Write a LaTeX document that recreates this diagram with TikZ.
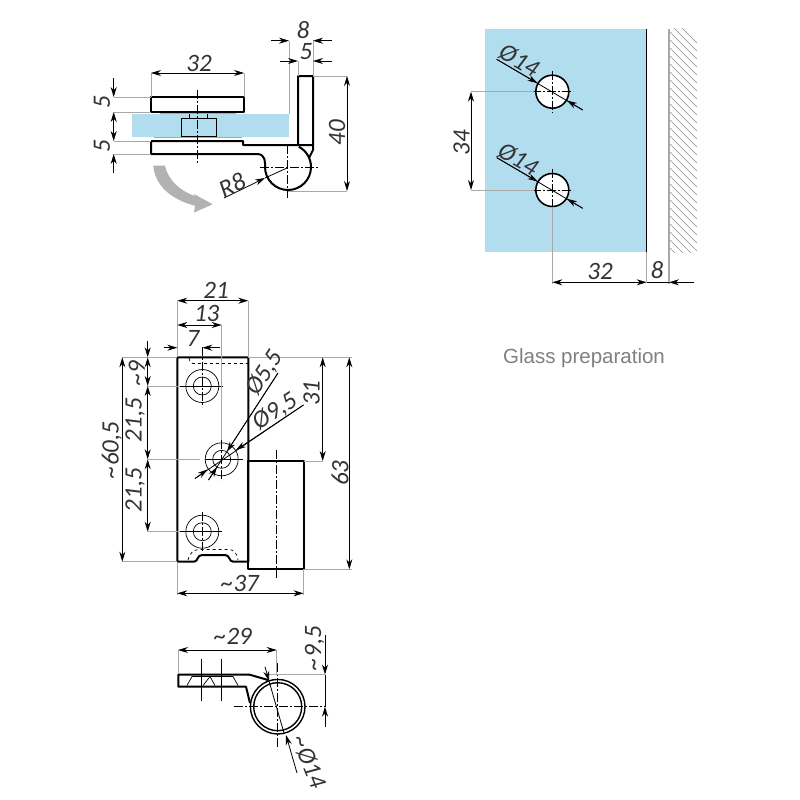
\documentclass[tikz,border=0pt]{standalone}
\usepackage{fontspec}
\setmainfont{Carlito}
\newfontfamily\captionfont{Liberation Sans}
\usetikzlibrary{arrows.meta}
\definecolor{glassblue}{HTML}{B2DDEE}
\definecolor{extgray}{HTML}{A8A8A8}
\tikzset{
  part/.style={draw=black,line width=2pt,line join=round},
  thinpart/.style={draw=black,line width=0.7pt},
  dim/.style={draw=black,line width=0.8pt,>={Stealth[length=10pt,width=6pt]}},
  ext/.style={draw=extgray,line width=0.8pt},
  axis/.style={draw=black,line width=0.7pt,dash pattern=on 9pt off 2pt on 2pt off 2pt},
  lbl/.style={inner sep=0pt,font=\fontsize{25}{26}\selectfont\itshape,text=black!80},
}
\begin{document}
\begin{tikzpicture}[x=1pt,y=-1pt]
\useasboundingbox (0,0) rectangle (800,800);

% top view
\fill[glassblue] (132,114) rectangle (289,137);
\draw[thinpart] (181,118) rectangle (216,136);
\draw[thinpart] (189,118) -- (189,114) (207,118) -- (207,114);
\draw[ext] (160,113) -- (236,113) (154,137.5) -- (242,137.5);
\draw[part] (151,97) rectangle (244,112);
\draw[part] (151,141) -- (243,141) -- (243,145) -- (313,145)
  (151,141) -- (151,154) -- (257,154) .. controls (266,154) and (265,163) .. (265,167);
\draw[part] (298,145) -- (298,76) -- (313,76) -- (313,150) -- (309,158);
\draw[part] (265,167) arc[start angle=180,end angle=-62,radius=23];
\draw[axis] (197.7,90) -- (197.7,163) (260,167.7) -- (318,167.7) (287.7,145) -- (287.7,198);
\fill[black!30] (153.3,165.7) -- (165,165.7) .. controls (168,180) and (180,191) .. (195,196)
  -- (194,194) -- (212.7,204.3) -- (194,212.5) -- (195,205.7)
  .. controls (172,200) and (155,186) .. (153.3,165.7) -- cycle;
% top view, dimensions
\draw[ext] (151,97) -- (151,73) (244,97) -- (244,73);
\draw[dim,<->] (151,73) -- (244,73);
\node[lbl] (dimA) at (199,63) {32};
\draw[ext] (289,114) -- (289,40.7) (313,76) -- (313,40.7) (298,76) -- (298,61);
\draw[dim,->] (271,40.7) -- (289,40.7);
\draw[dim,->] (332,40.7) -- (313,40.7);
\draw[dim,->] (280,61) -- (298,61);
\draw[dim,->] (332,61) -- (313,61);
\node[lbl] (dimB) at (303,30) {8};
\node[lbl] (dimC) at (306,52) {5};
\draw[ext] (313,76) -- (347,76) (288,191) -- (347,191);
\draw[dim,<->] (347,76) -- (347,191);
\node[lbl,rotate=90] (dimD) at (337,133) {40};
\draw[ext] (114,97) -- (151,97) (114,112) -- (151,112) (114,141) -- (151,141) (114,154) -- (151,154);
\draw[dim,->] (113.7,78) -- (113.7,97);
\draw[dim,->] (113.7,126) -- (113.7,112);
\draw[dim,->] (113.7,126) -- (113.7,141);
\draw[dim,->] (113.7,173) -- (113.7,154);
\node[lbl,rotate=90] (dimE) at (102,101.7) {5};
\node[lbl,rotate=90] (dimF) at (102,145.7) {5};
\draw[dim,->] (224,198) -- (265,178);
\draw[dim] (265,178) -- (287.7,167.7);
\node[lbl,rotate=26] (dimG) at (232,185) {R8};

% glass preparation
\fill[glassblue] (485.3,29.3) rectangle (646.7,252.3);
\draw[line width=1.2pt] (646.7,29.3) -- (646.7,252.3);
\begin{scope}
\clip (669,29) rectangle (697,252);
\foreach \y in {15,23,...,260}
  \draw[black!45,line width=0.5pt] (669,\y) -- (699,\y+30);
\end{scope}
\draw[ext,line width=1.2pt] (669,29.3) -- (669,284);
\foreach \y/\name in {91.7/holeA,190/holeB} {
  \node[circle,draw=black,line width=1.6pt,fill=white,minimum size=33pt,inner sep=0pt] (\name) at (552.3,\y) {};
  \draw[axis] (532,\y) -- (573,\y) (552.3,\y-21) -- (552.3,\y+21);
  \draw[dim] (496.7,\y-32.4) -- (582.7,\y+18.3);
  \draw[dim,->] (496.7,\y-32.4) -- (537.5,\y-8.6);
  \draw[dim,->] (582.7,\y+18.3) -- (567,\y+8.8);
}
\node[lbl,rotate=-30] (dimH) at (519,60.7) {Ø14};
\node[lbl,rotate=-30] (dimI) at (518,159.3) {Ø14};
\draw[ext] (471,91.7) -- (534,91.7) (471,190) -- (534,190);
\draw[dim,<->] (471,91.7) -- (471,190);
\node[lbl,rotate=90] (dimJ) at (461.7,142.7) {34};
\draw[ext] (552.3,207) -- (552.3,284) (646.7,252) -- (646.7,282);
\draw[dim,->] (600,282.3) -- (552.3,282.3);
\draw[dim,->] (600,282.3) -- (646.7,282.3);
\draw[dim] (646.7,282.3) -- (669,282.3);
\draw[dim,->] (694,282.3) -- (669,282.3);
\node[lbl] (dimK) at (600,271) {32};
\node[lbl] (dimL) at (657,270.5) {8};
\node[inner sep=0pt,text=black!50,font=\fontsize{20.5}{22}\selectfont\captionfont] (caption) at (584,358) {Glass preparation};

% front view
\draw[part] (248.3,561.7) -- (233,561.7) .. controls (229,561.7) and (230,555) .. (225,555) -- (202,555)
  .. controls (197,555) and (198,561.7) .. (194,561.7) -- (177.3,561.7) -- (177.3,357.3) -- (248.3,357.3) -- cycle;
\draw[part] (248.3,461) rectangle (304,569.3);
\draw[thinpart,dashed] (189,358) .. controls (190,362) and (191,363.5) .. (193,363.5) -- (248,363.5);
\draw[thinpart,dashed] (188,560) .. controls (190,552) and (194,549.5) .. (200,549.5) -- (228,549.5) .. controls (234,549.5) and (237,553) .. (238,560);
\foreach \x/\y/\name in {202.3/386/holeC,221.7/459.3/holeD,202.3/531.7/holeE} {
  \node[circle,draw=black,line width=0.7pt,minimum size=33pt,inner sep=0pt] (\name) at (\x,\y) {};
  \node[circle,draw=black,line width=0.7pt,minimum size=18pt,inner sep=0pt] (\name i) at (\x,\y) {};
}
\draw[axis] (202.3,347) -- (202.3,407) (202.3,512) -- (202.3,552) (221.7,440) -- (221.7,481)
  (276.7,450) -- (276.7,578);
\draw[thinpart] (180,386) -- (223,386) (180,531.7) -- (222,531.7) (205,459.3) -- (243,459.3);
\draw[ext] (147.7,386) -- (180,386) (147.7,459.3) -- (200,459.3) (147.7,531.7) -- (180,531.7);
% front view, dimensions
\draw[ext] (177.3,300.7) -- (177.3,357) (248.3,300.7) -- (248.3,357) (221.7,325) -- (221.7,440);
\draw[dim,<->] (177.3,300.7) -- (248.3,300.7);
\draw[dim,<->] (177.3,325) -- (221.7,325);
\draw[dim,->] (164,347.7) -- (177.3,347.7);
\draw[dim,->] (220,347.7) -- (202.3,347.7);
\node[lbl] (dimM) at (216,290.5) {21};
\node[lbl] (dimN) at (206.7,313) {13};
\node[lbl] (dimO) at (193,338) {7};
\draw[dim,->] (147.7,340.7) -- (147.7,357.3);
\draw[dim,->] (147.7,372) -- (147.7,386);
\draw[dim,->] (147.7,372) -- (147.7,357.3);
\draw[dim,<->] (147.7,386) -- (147.7,459.3);
\draw[dim,<->] (147.7,459.3) -- (147.7,531.7);
\node[lbl,rotate=90] (dimP) at (136.7,373) {\textasciitilde9};
\node[lbl,rotate=90] (dimQ) at (135,420) {21,5};
\node[lbl,rotate=90] (dimR) at (135,490) {21,5};
\draw[ext] (122,357.3) -- (177.3,357.3) (122,561.7) -- (177.3,561.7);
\draw[dim,<->] (122.3,357.3) -- (122.3,561.7);
\node[lbl,rotate=90] (dimS) at (111.7,450) {\textasciitilde60,5};
\draw[ext] (248.3,357.3) -- (352,357.3) (304,569.3) -- (352,569.3) (304,461) -- (323,461);
\draw[dim,<->] (349.3,357.3) -- (349.3,569.3);
\draw[dim,<->] (322.7,357.3) -- (322.7,461);
\node[lbl,rotate=90] (dimT) at (340,473) {63};
\node[lbl,rotate=90] (dimU) at (311.7,393.3) {31};
\draw[ext] (177.3,561.7) -- (177.3,595) (303.5,569.3) -- (303.5,595);
\draw[dim,<->] (177.3,593.3) -- (303.5,593.3);
\node[lbl] (dimV) at (240,583.5) {\textasciitilde37};
\draw[dim] (278,373) -- (208.5,480);
\draw[dim,->] (278,373) -- (227,451.5);
\draw[dim,->] (208.5,480) -- (217,467);
\draw[dim] (303.5,405) -- (195,478.5);
\draw[dim,->] (303.5,405) -- (236,450);
\draw[dim,->] (195,478.5) -- (207.5,469.5);
\node[lbl,rotate=57] (dimW) at (265,373) {Ø5,5};
\node[lbl,rotate=33] (dimX) at (275,411.5) {Ø9,5};

% bottom view
\draw[part] (249,674.5) -- (178.3,674.5) -- (178.3,686.7) -- (246,686.7) -- (250,703);
\draw[part] (249,674.5) -- (268,680);
\draw[black,line width=1.4pt] (277.7,706.7) circle[radius=27.3];
\draw[black,line width=1.4pt] (277.7,706.7) circle[radius=24];
\draw[thinpart] (187,685.5) -- (192,676.5) -- (233,676.5) -- (238,685.5) (203,685.5) -- (210,676.5) -- (215,685.5);
\draw[thinpart] (201.7,659) -- (201.7,701) (221.7,659) -- (221.7,701);
\draw[axis] (234,706.7) -- (325,706.7) (277,663) -- (277,749);
% bottom view, dimensions
\draw[ext] (178,650) -- (178,674) (276.7,650) -- (276.7,674) (268,674.5) -- (325,674.5);
\draw[dim,<->] (178,650) -- (276.7,650);
\node[lbl] (dimY) at (233,636.5) {\textasciitilde29};
\draw[dim,->] (325,635) -- (325,674.5);
\draw[dim,->] (325,727) -- (325,706.7);
\draw[dim] (325,674.5) -- (325,706.7);
\node[lbl,rotate=90] (dimZ) at (314.5,648) {\textasciitilde9,5};
\draw[dim,->] (265,666.7) -- (269,681);
\draw[dim] (269,681) -- (284,733);
\draw[dim,->] (297,773) -- (286,735);
\node[lbl,rotate=-68] (dimAA) at (309,762) {\textasciitilde Ø14};
\end{tikzpicture}
\end{document}
